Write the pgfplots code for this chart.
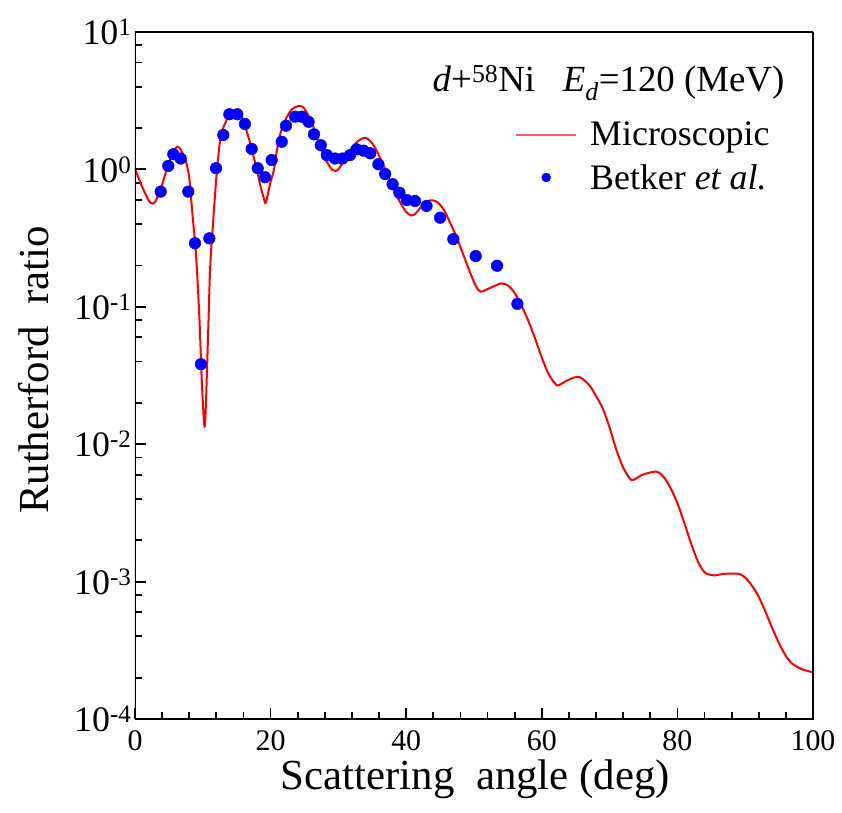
\documentclass[border=0pt]{standalone}
\usepackage{fontspec}
\setmainfont{Liberation Serif}
\usepackage{pgfplots}
\pgfplotsset{compat=1.18}
\begin{document}
\begin{tikzpicture}
\path[use as bounding box] (-135bp,-94bp) rectangle (707bp,719bp);
\begin{axis}[
  at={(0,0)}, anchor=south west,
  scale only axis, width=678bp, height=687bp,
  xmin=0, xmax=100, ymode=log, ymin=1e-4, ymax=10,
  every tick/.style={black, line width=1.8bp},
  major tick length=11bp, minor tick length=7bp,
  tick align=inside, tick pos=left,
  xtick={0,20,40,60,80,100}, minor x tick num=4,
  ytick={1e-4,1e-3,1e-2,1e-1,1,10},
  yticklabels={10\textsuperscript{-4},10\textsuperscript{-3},10\textsuperscript{-2},10\textsuperscript{-1},10\textsuperscript{0},10\textsuperscript{1}},
  minor ytick={2e-4,4e-4,6e-4,8e-4,2e-3,4e-3,6e-3,8e-3,2e-2,4e-2,6e-2,8e-2,0.2,0.4,0.6,0.8,2,4,6,8},
  /pgf/number format/assume math mode=true,
  xticklabel style={font=\fontsize{30}{36}\selectfont, yshift=-8bp},
  yticklabel style={font=\fontsize{36}{42}\selectfont},
  xlabel={Scattering\ \ angle\ (deg)},
  ylabel={Rutherford\ \ ratio},
  label style={font=\fontsize{43}{50}\selectfont},
  xlabel style={at={(axis description cs:0.502,-0.087)}, anchor=center},
  ylabel style={at={(axis description cs:-0.150,0.508)}, anchor=center},
  legend style={draw=none, fill=none, inner sep=0pt, at={(rel axis cs:0.5605,0.8190)}, anchor=west,
    font=\fontsize{36}{42}\selectfont, row sep=17bp, column sep=13bp, nodes={inner sep=0pt}},
  legend cell align=left,
]
\addplot[red, line width=2bp, smooth, tension=0.5,
  legend image code/.code={\draw[red!65, line width=2bp] (0bp,0bp) -- (60bp,0bp);}]
coordinates {
(0,1.01) (1,0.759) (2,0.596) (2.5,0.566) (3,0.582) (4,0.776) (5,1.122) (6,1.429) (6.5,1.445) (7,1.318) (7.5,1.148)
(8,0.871) (8.5,0.457) (9,0.240) (9.5,0.0832) (9.8,0.0331) (10.1,0.0166) (10.3,0.0135) (10.5,0.0224) (10.8,0.0676)
(11.1,0.200) (11.5,0.398) (12,0.871) (12.5,1.549) (13,1.995) (14,2.512) (15,2.692) (15.5,2.630) (16,2.239) (17,1.549)
(18,0.977) (18.5,0.759) (19,0.617) (19.3,0.575) (20,0.813) (20.5,1.0) (21,1.445) (21.5,1.862) (22,2.188) (23,2.692)
(24,2.884) (24.5,2.884) (25,2.754) (26,2.239) (27,1.622) (28,1.202) (28.5,1.096) (29,1.0) (29.5,0.977) (30,1.0)
(31,1.202) (32,1.445) (33,1.622) (34,1.698) (35,1.549) (36,1.259) (37,0.977) (38,0.741) (39,0.589) (40,0.490)
(40.8,0.462) (41.5,0.484) (42.5,0.556) (43.5,0.596) (44.5,0.582) (45.5,0.513) (46.5,0.407) (47.5,0.316) (48.5,0.234)
(49.5,0.174) (50.3,0.141) (51,0.129) (52.5,0.138) (54,0.148) (55,0.143) (56,0.126) (57,0.102) (58,0.0794) (59,0.0589)
(60,0.0427) (61,0.0324) (62,0.0275) (62.5,0.0269) (64,0.0295) (65.5,0.0309) (67,0.0269) (68,0.0224) (69,0.0182)
(70,0.0132) (71,0.00912) (72,0.00676) (73,0.00562) (73.5,0.00550) (75,0.00603) (76.9,0.00631) (78,0.00575)
(79,0.00479) (80,0.00372) (81,0.00269) (82,0.00191) (83,0.00141) (84,0.00117) (85.3,0.00111) (87,0.00114)
(89,0.00114) (90,0.00107) (91,0.000933) (92,0.000776) (93,0.000603) (94,0.000457) (95,0.000355) (96,0.000288)
(97,0.000251) (98.5,0.000229) (100,0.000219)
};
\addlegendentry{Microscopic}
\addplot[only marks, mark=*, mark size=5.8bp, mark options={draw=blue, fill=blue, line width=0.5bp},
  legend image code/.code={\fill[blue] (30bp,0bp) circle (4.5bp);}]
coordinates {
(3.79,0.689) (4.91,1.06) (5.65,1.29) (6.74,1.20) (7.86,0.689) (8.85,0.290) (9.73,0.0382) (10.96,0.315)
(11.95,1.02) (13.02,1.78) (13.91,2.52) (15.09,2.52) (16.22,2.14) (17.21,1.41) (18.10,1.02) (19.17,0.877)
(20.16,1.17) (21.64,1.59) (22.27,2.08) (23.6,2.42) (24.59,2.42) (25.6,2.22) (26.4,1.80) (27.4,1.50)
(28.3,1.27) (29.5,1.20) (30.6,1.20) (31.7,1.27) (32.7,1.40) (33.7,1.37) (34.7,1.31) (35.9,1.09)
(36.9,0.926) (38.0,0.78) (39.0,0.676) (40.1,0.598) (41.3,0.589) (43.0,0.542) (45.0,0.445) (46.95,0.311)
(50.25,0.234) (53.4,0.199) (56.4,0.105)
};
\addlegendentry{Betker \textit{et al.}}
\node[anchor=east, font=\fontsize{37}{42}\selectfont] at (rel axis cs:0.963,0.926)
  {\textit{d}+\textsuperscript{58}Ni\hspace{0.75em}\textit{E}\textsubscript{\textit{d}}=120 (MeV)};
\draw[line width=3bp, black] (rel axis cs:0,0) rectangle (rel axis cs:1,1);
\end{axis}
\end{tikzpicture}
\end{document}
